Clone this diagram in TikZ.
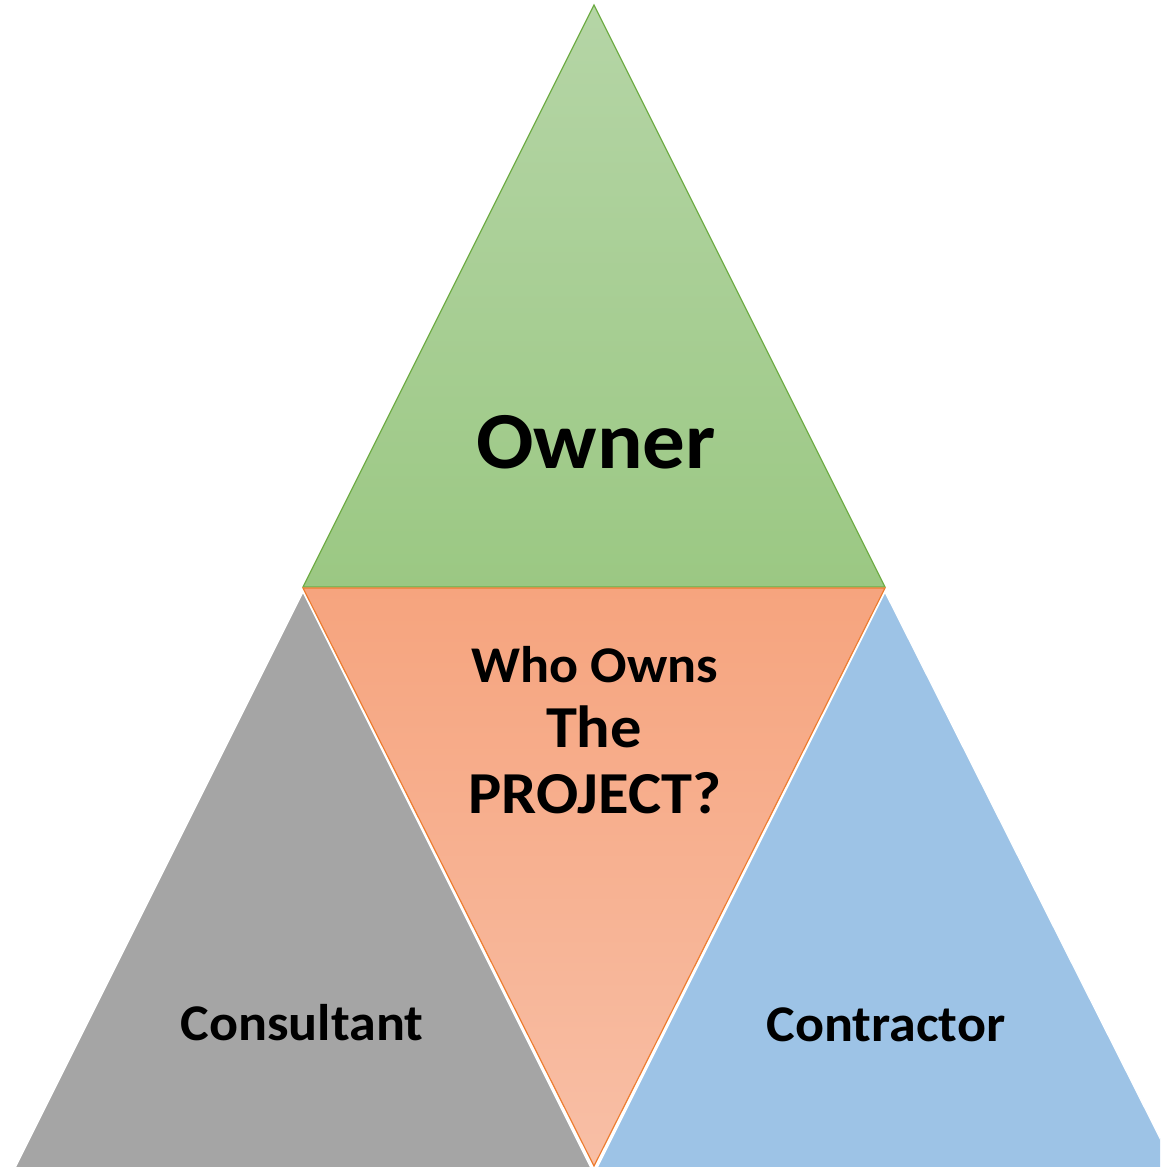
\documentclass[tikz,border=0pt]{standalone}
\usepackage{fontspec}
\setmainfont{Carlito}
\newcommand{\widetext}[2]{\scalebox{1.05}[1]{\bfseries\fontsize{#1}{#1}\selectfont #2}}
\begin{document}
\begin{tikzpicture}[x=1pt,y=-1pt,
  lbl/.style={anchor=base,inner sep=0pt},
  tri/.style={line width=1.2pt,line join=miter}]
\definecolor{grnTop}{HTML}{B5D5A6}
\definecolor{grnBot}{HTML}{9BC883}
\definecolor{grnLine}{HTML}{70AD47}
\definecolor{orgTop}{HTML}{F6A47E}
\definecolor{orgBot}{HTML}{F8BFA6}
\definecolor{orgLine}{HTML}{ED7D31}
\definecolor{grayFill}{HTML}{A5A5A5}
\definecolor{blueFill}{HTML}{9DC3E6}
\useasboundingbox (0,0) rectangle (1160,1167);
\begin{scope}
\clip (0,0) rectangle (1160,1167);
% lower left: consultant
\path[tri,fill=grayFill,draw=white] (303,592) -- (591,1168) -- (15,1168) -- cycle;
% top: owner
\shade[tri,top color=grnTop,bottom color=grnBot,draw=grnLine] (594,5) -- (885,587) -- (303,587) -- cycle;
% centre: the project
\shade[tri,top color=orgTop,bottom color=orgBot,draw=orgLine] (303,588) -- (885,588) -- (594,1166) -- cycle;
% lower right: contractor
\path[tri,fill=blueFill,draw=white] (885,592) -- (1175,1168) -- (597,1168) -- cycle;
\end{scope}
\node[lbl] (owner) at (596,468) {\widetext{81}{Owner}};
\node[lbl] (who) at (595,682) {\widetext{51.5}{Who Owns}};
\node[lbl] (the) at (594,747) {\widetext{59.5}{The}};
\node[lbl] (proj) at (595,813) {\widetext{59.5}{PROJECT?}};
\node[lbl] (cons) at (302,1040) {\widetext{51.5}{Consultant}};
\node[lbl] (contr) at (886,1041) {\widetext{51.5}{Contractor}};
\end{tikzpicture}
\end{document}
